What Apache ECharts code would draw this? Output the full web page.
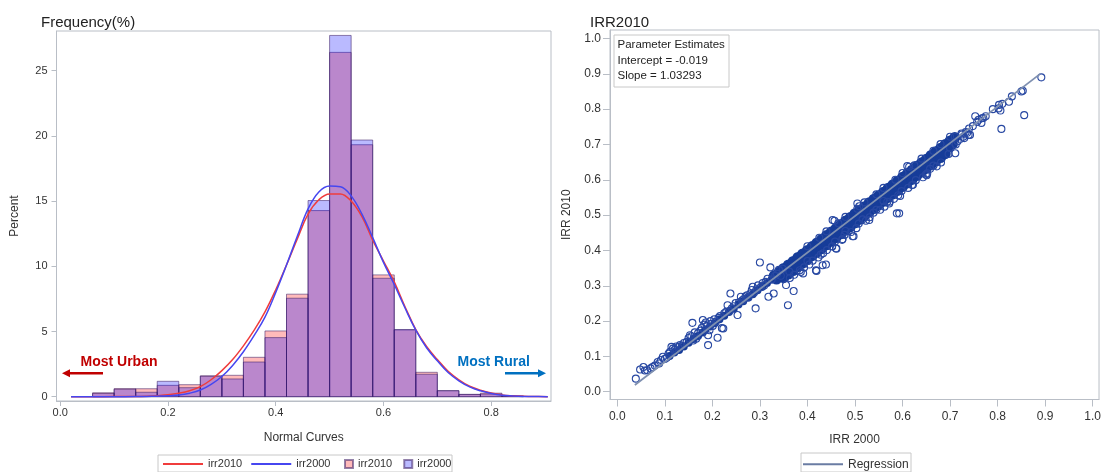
<!DOCTYPE html>
<html>
<head>
<meta charset="utf-8">
<script src="https://cdn.jsdelivr.net/npm/echarts@6/dist/echarts.min.js"></script>
<style>
html,body{margin:0;padding:0;background:#fff;}
#chart{width:1104px;height:472px;}
</style>
</head>
<body>
<div id="chart"></div>
<script>
// ---------- Histogram (left) ----------
const histBinWidth = 0.04;
const histBinStart = [0.06,0.10,0.14,0.18,0.22,0.26,0.30,0.34,0.38,0.42,0.46,0.50,0.54,0.58,0.62,0.66,0.70,0.74,0.78,0.82];
const histIrr2010 = [0.30,0.62,0.61,0.87,0.92,1.60,1.64,3.02,5.04,7.86,14.27,26.4,19.32,9.34,5.12,1.87,0.46,0.18,0.27,0.05];
const histIrr2000 = [0.25,0.57,0.34,1.18,0.69,1.57,1.36,2.66,4.53,7.55,15.04,27.7,19.68,9.08,5.15,1.72,0.46,0.17,0.20,0.05];

const curveX = [0.02,0.06,0.10,0.14,0.16,0.18,0.20,0.22,0.24,0.26,0.28,0.30,0.32,0.34,0.36,0.38,0.40,0.42,0.44,0.46,0.48,0.50,0.52,0.54,0.56,0.58,0.60,0.62,0.64,0.66,0.68,0.70,0.72,0.74,0.76,0.78,0.80,0.82,0.84,0.86,0.88,0.905];
const curveIrr2010 = [0,0,0.01,0.02,0.04,0.08,0.14,0.26,0.45,0.77,1.3,2.0,2.85,3.9,5.1,6.5,8.2,10.1,12.1,14.0,15.1,15.55,15.55,15.0,13.8,12.0,10.4,8.8,6.9,5.15,3.85,2.85,1.95,1.3,0.8,0.5,0.28,0.14,0.07,0.03,0.01,0];
const curveIrr2000 = [0,0,0,0.01,0.02,0.04,0.07,0.13,0.27,0.51,0.95,1.55,2.4,3.45,4.7,6.1,8.0,10.1,12.3,14.4,15.7,16.15,16.1,15.4,14.0,12.2,10.3,8.6,6.8,5.1,3.75,2.75,1.85,1.22,0.75,0.45,0.25,0.12,0.06,0.02,0.01,0];

const histXTicks = [0,0.2,0.4,0.6,0.8];
const histYTicks = [0,5,10,15,20,25];

// ---------- Scatter (right) ----------
// dense core of the cloud (so many overlapping circles that it reads as solid)
const scatterCore = [
[0.33,0.328],[0.34,0.338],[0.35,0.349],[0.36,0.359],[0.37,0.369],[0.38,0.380],[0.39,0.390],[0.40,0.400],
[0.41,0.411],[0.42,0.421],[0.43,0.431],[0.44,0.442],[0.45,0.452],[0.46,0.462],[0.47,0.473],[0.48,0.483],
[0.49,0.493],[0.50,0.504],[0.51,0.514],[0.52,0.524],[0.53,0.535],[0.54,0.545],[0.55,0.555],[0.56,0.565],
[0.57,0.576],[0.58,0.586],[0.59,0.596],[0.60,0.607],[0.61,0.617],[0.62,0.627],[0.63,0.638],[0.64,0.648],
[0.65,0.658],[0.66,0.669],[0.67,0.679],[0.68,0.689],[0.69,0.700],[0.70,0.710],[0.71,0.720],
[0.335,0.319],[0.345,0.329],[0.355,0.340],[0.365,0.350],[0.375,0.360],[0.385,0.371],[0.395,0.381],[0.405,0.391],
[0.415,0.402],[0.425,0.412],[0.435,0.422],[0.445,0.433],[0.455,0.443],[0.465,0.453],[0.475,0.464],[0.485,0.474],
[0.495,0.484],[0.505,0.495],[0.515,0.505],[0.525,0.515],[0.535,0.526],[0.545,0.536],[0.555,0.546],[0.565,0.557],
[0.575,0.567],[0.585,0.577],[0.595,0.588],[0.605,0.598],[0.615,0.608],[0.625,0.619],[0.635,0.629],[0.645,0.639],
[0.655,0.650],[0.665,0.660],[0.675,0.670],[0.685,0.681],[0.695,0.691],[0.705,0.701],
[0.35,0.323],[0.36,0.333],[0.37,0.343],[0.38,0.354],[0.39,0.364],[0.40,0.374],[0.41,0.385],[0.42,0.395],
[0.43,0.405],[0.44,0.416],[0.45,0.426],[0.46,0.436],[0.47,0.447],[0.48,0.457],[0.49,0.467],[0.50,0.478],
[0.51,0.488],[0.52,0.498],[0.53,0.509],[0.54,0.519],[0.55,0.529],[0.56,0.539],[0.57,0.550],[0.58,0.560],
[0.59,0.570],[0.60,0.581],[0.61,0.591],[0.62,0.601],[0.63,0.612],[0.64,0.622],[0.65,0.632],[0.66,0.643],
[0.67,0.653],[0.68,0.663],[0.69,0.674]
];
// thinner dense stretch at the low end
const scatterLowCore = [
[0.185,0.175],[0.195,0.185],[0.205,0.194],[0.215,0.205],[0.225,0.215],[0.235,0.226],[0.245,0.235],[0.255,0.247],
[0.265,0.256],[0.275,0.267],[0.285,0.276],[0.295,0.287],[0.305,0.297],[0.315,0.308],[0.325,0.318],
[0.11,0.101],[0.12,0.111],[0.13,0.118],[0.14,0.128],[0.15,0.139],[0.16,0.149],[0.17,0.158],[0.18,0.168]
];
// individual open circles
const scatterPoints = [
[0.039,0.037],[0.048,0.063],[0.055,0.070],[0.058,0.060],[0.063,0.061],[0.070,0.066],[0.074,0.070],[0.079,0.074],
[0.085,0.084],[0.088,0.080],[0.092,0.090],[0.096,0.099],[0.100,0.093],[0.104,0.096],[0.108,0.108],[0.111,0.113],
[0.114,0.127],[0.117,0.122],[0.120,0.118],[0.124,0.128],[0.128,0.126],[0.132,0.132],[0.136,0.130],[0.140,0.138],
[0.146,0.141],[0.150,0.152],[0.153,0.160],[0.156,0.157],[0.158,0.195],[0.160,0.145],[0.163,0.168],[0.166,0.150],
[0.170,0.166],[0.175,0.173],[0.178,0.181],[0.180,0.203],[0.183,0.190],[0.186,0.196],[0.188,0.185],[0.191,0.132],
[0.191,0.160],[0.194,0.174],[0.196,0.200],[0.198,0.192],[0.201,0.186],[0.204,0.205],[0.207,0.198],[0.211,0.153],
[0.213,0.209],[0.216,0.214],[0.220,0.180],[0.223,0.179],[0.225,0.222],[0.229,0.226],[0.232,0.245],[0.236,0.229],
[0.238,0.278],[0.241,0.236],[0.245,0.242],[0.249,0.251],[0.253,0.217],[0.256,0.253],[0.260,0.269],[0.263,0.259],
[0.266,0.262],[0.270,0.270],[0.273,0.273],[0.276,0.267],[0.280,0.278],[0.283,0.288],[0.285,0.297],[0.288,0.281],
[0.291,0.236],[0.293,0.290],[0.296,0.301],[0.300,0.366],[0.302,0.296],[0.306,0.308],[0.309,0.301],[0.312,0.311],
[0.316,0.320],[0.318,0.269],[0.322,0.352],[0.325,0.318],[0.329,0.278],[0.332,0.328],[0.336,0.334],[0.340,0.345],
[0.344,0.328],[0.348,0.348],[0.355,0.302],[0.359,0.245],[0.362,0.340],[0.371,0.285],[0.384,0.344],[0.391,0.335],
[0.400,0.370],[0.419,0.342],[0.439,0.360],[0.428,0.388],[0.432,0.358],[0.418,0.344],[0.452,0.412],[0.461,0.405],
[0.460,0.406],[0.473,0.430],[0.497,0.440],[0.495,0.440],[0.480,0.455],[0.457,0.484],[0.453,0.486],[0.505,0.533],
[0.509,0.525],[0.516,0.488],[0.530,0.486],[0.545,0.515],[0.572,0.533],[0.573,0.538],[0.595,0.554],[0.588,0.505],
[0.593,0.505],[0.560,0.540],[0.610,0.639],[0.614,0.637],[0.620,0.585],[0.649,0.615],[0.651,0.613],[0.665,0.640],
[0.697,0.673],[0.711,0.675],[0.700,0.690],[0.710,0.722],[0.712,0.700],[0.724,0.731],[0.730,0.718],[0.739,0.727],
[0.742,0.727],[0.753,0.780],[0.760,0.770],[0.766,0.761],[0.767,0.774],[0.802,0.802],[0.803,0.812],[0.806,0.796],
[0.808,0.744],[0.824,0.821],[0.853,0.852],[0.856,0.783],[0.892,0.890],
[0.725,0.728],[0.733,0.735],[0.740,0.745],[0.748,0.752],[0.757,0.764],[0.770,0.775],[0.775,0.780],[0.790,0.800],
[0.810,0.815],[0.830,0.836],[0.850,0.850],[0.716,0.709],[0.722,0.716],[0.728,0.722],[0.736,0.733],
[0.363,0.322],[0.372,0.331],[0.386,0.339],[0.393,0.352],[0.404,0.360],[0.411,0.371],[0.423,0.380],[0.433,0.392],
[0.441,0.401],[0.452,0.411],[0.458,0.425],[0.474,0.432],[0.478,0.444],[0.492,0.452],[0.503,0.463],[0.508,0.476],
[0.523,0.484],[0.531,0.494],[0.539,0.507],[0.553,0.515],[0.562,0.524],[0.568,0.538],[0.582,0.546],[0.591,0.556],
[0.598,0.568],[0.612,0.577],[0.622,0.586],[0.628,0.599],[0.643,0.607],[0.652,0.618],[0.658,0.631],[0.672,0.638],[0.681,0.649],
[0.40,0.412],[0.425,0.436],[0.44,0.454],[0.465,0.477],[0.48,0.495],[0.505,0.518],[0.52,0.536],[0.545,0.559],
[0.56,0.577],[0.585,0.600],[0.60,0.619],[0.625,0.641],[0.64,0.660],[0.665,0.682],[0.68,0.701],[0.70,0.722]
];
const regressionLine = [[0.037,0.019],[0.889,0.899]];
const scatterTicks = [0,0.1,0.2,0.3,0.4,0.5,0.6,0.7,0.8,0.9,1.0];

// ---------- chart ----------
const FONT = '"Liberation Sans", Arial, Helvetica, sans-serif';
const AXIS_GREY = '#b9bec6';
const TXT = '#333333';
const RED_FILL = 'rgba(255,0,0,0.27)';
const BLUE_FILL = 'rgba(0,0,255,0.27)';
const BAR_EDGE = 'rgba(60,30,100,0.55)';
const DOT = '#163c99';

function histData(vals){ return histBinStart.map((s,i)=>[s, s+histBinWidth, vals[i]]); }
function barRender(fill){
  return function(params, api){
    const p0 = api.coord([api.value(0), api.value(2)]);
    const p1 = api.coord([api.value(1), 0]);
    return {type:'rect', shape:{x:p0[0], y:p0[1], width:p1[0]-p0[0], height:p1[1]-p0[1]},
            style:{fill:fill, stroke:BAR_EDGE, lineWidth:1}};
  };
}
function axisCommon(ticks, fmt, fs, tickLen, margin){
  return {
    axisLine:{show:true, onZero:false, lineStyle:{color:AXIS_GREY}},
    axisTick:{show:true, inside:false, length:tickLen, customValues:ticks, lineStyle:{color:AXIS_GREY}},
    axisLabel:{customValues:ticks, formatter:fmt, color:TXT, fontSize:fs, fontFamily:FONT, margin:margin, showMinLabel:true, showMaxLabel:true},
    splitLine:{show:false},
    nameTextStyle:{color:TXT, fontSize:12, fontFamily:FONT}
  };
}

const chart = echarts.init(document.getElementById('chart'), null, {renderer:'canvas'});
const option = {
  animation:false,
  backgroundColor:'#ffffff',
  textStyle:{fontFamily:FONT},
  title:[
    {text:'Frequency(%)', left:36, top:10, textStyle:{fontSize:15, fontWeight:'normal', color:'#222', fontFamily:FONT}},
    {text:'IRR2010', left:585, top:10, textStyle:{fontSize:15, fontWeight:'normal', color:'#222', fontFamily:FONT}}
  ],
  grid:[
    {left:56.5, top:31, width:494.5, height:370, show:true, borderColor:AXIS_GREY, borderWidth:1, containLabel:false},
    {left:610, top:30, width:490.5, height:369.5, show:true, borderColor:AXIS_GREY, borderWidth:1, containLabel:false}
  ],
  xAxis:[
    Object.assign(axisCommon(histXTicks, v=>v.toFixed(1), 11, 5, 6), {type:'value', gridIndex:0, min:-0.007, max:0.911,
      name:'Normal Curves', nameLocation:'middle', nameGap:31}),
    Object.assign(axisCommon(scatterTicks, v=>v.toFixed(1), 12, 7, 11), {type:'value', gridIndex:1, min:-0.0153, max:1.0134,
      name:'IRR 2000', nameLocation:'middle', nameGap:34})
  ],
  yAxis:[
    Object.assign(axisCommon(histYTicks, v=>String(v), 11, 5, 9), {type:'value', gridIndex:0, min:-0.33, max:28.04,
      name:'Percent', nameLocation:'middle', nameGap:36}),
    Object.assign(axisCommon(scatterTicks, v=>v.toFixed(1), 12, 7, 9), {type:'value', gridIndex:1, min:-0.022, max:1.024,
      name:'IRR 2010', nameLocation:'middle', nameGap:37})
  ],
  legend:[
    {data:[{name:'irr2010', icon:'rect'},{name:'irr2000', icon:'rect'}], left:163, top:458.6, padding:0, itemWidth:40, itemHeight:2, itemGap:9,
     textStyle:{fontSize:11, color:TXT, fontFamily:FONT}, selectedMode:false},
    {data:[{name:'irr2010 ', icon:'rect'},{name:'irr2000 ', icon:'rect'}], formatter:n=>n.trim(),
     left:344, top:458.6, padding:0, itemWidth:8, itemHeight:8, itemGap:11,
     textStyle:{fontSize:11, color:TXT, fontFamily:FONT}, selectedMode:false},
    {data:[{name:'Regression', icon:'rect'}], left:803, top:458.2, padding:0, itemWidth:40, itemHeight:2,
     textStyle:{fontSize:12, color:TXT, fontFamily:FONT}, selectedMode:false}
  ],
  series:[
    {name:'irr2010 ', type:'custom', xAxisIndex:0, yAxisIndex:0, z:2, renderItem:barRender(RED_FILL),
     itemStyle:{color:RED_FILL, borderColor:BAR_EDGE, borderWidth:1}, encode:{x:[0,1], y:2}, data:histData(histIrr2010)},
    {name:'irr2000 ', type:'custom', xAxisIndex:0, yAxisIndex:0, z:2, renderItem:barRender(BLUE_FILL),
     itemStyle:{color:BLUE_FILL, borderColor:BAR_EDGE, borderWidth:1}, encode:{x:[0,1], y:2}, data:histData(histIrr2000)},
    {name:'irr2010', type:'line', xAxisIndex:0, yAxisIndex:0, z:4, smooth:0.4, symbol:'none',
     lineStyle:{color:'#f03c3c', width:1.5}, itemStyle:{color:'#f03c3c'},
     data:curveX.map((x,i)=>[x, curveIrr2010[i]])},
    {name:'irr2000', type:'line', xAxisIndex:0, yAxisIndex:0, z:4, smooth:0.4, symbol:'none',
     lineStyle:{color:'#4646f0', width:1.5}, itemStyle:{color:'#4646f0'},
     data:curveX.map((x,i)=>[x, curveIrr2000[i]])},
    {name:'core', type:'scatter', xAxisIndex:1, yAxisIndex:1, z:3, symbol:'circle', symbolSize:11,
     itemStyle:{color:DOT, opacity:1}, data:scatterCore},
    {name:'lowcore', type:'scatter', xAxisIndex:1, yAxisIndex:1, z:3, symbol:'circle', symbolSize:8,
     itemStyle:{color:DOT, opacity:1}, data:scatterLowCore},
    {name:'points', type:'scatter', xAxisIndex:1, yAxisIndex:1, z:3, symbol:'circle', symbolSize:7,
     itemStyle:{color:'rgba(0,0,0,0)', borderColor:'#2848a2', borderWidth:1.1, opacity:1}, data:scatterPoints},
    {name:'Regression', type:'line', xAxisIndex:1, yAxisIndex:1, z:5, symbol:'none',
     lineStyle:{color:'#7f90b0', width:1.8}, itemStyle:{color:'#6a7ca3'}, data:regressionLine}
  ],
  graphic:[
    {type:'rect', shape:{x:158, y:455, width:294, height:17}, style:{fill:'none', stroke:'#c8c8c8', lineWidth:1}, silent:true},
    {type:'rect', shape:{x:801, y:453, width:110, height:19}, style:{fill:'none', stroke:'#c8c8c8', lineWidth:1}, silent:true},
    {type:'rect', shape:{x:614, y:35, width:115, height:52}, style:{fill:'#fff', stroke:'#c8c8c8', lineWidth:1}, z:10, silent:true},
    {type:'text', x:617.5, y:44.5, z:11, style:{text:'Parameter Estimates', fill:'#222', font:'11.5px '+FONT, verticalAlign:'middle'}},
    {type:'text', x:617.5, y:60.5, z:11, style:{text:'Intercept = -0.019', fill:'#222', font:'11.5px '+FONT, verticalAlign:'middle'}},
    {type:'text', x:617.5, y:76.3, z:11, style:{text:'Slope = 1.03293', fill:'#222', font:'11.5px '+FONT, verticalAlign:'middle'}},
    {type:'text', x:80.5, y:361.7, z:11, style:{text:'Most Urban', fill:'#c00000', font:'bold 14px '+FONT, verticalAlign:'middle'}},
    {type:'line', z:11, shape:{x1:103, y1:373.3, x2:69, y2:373.3}, style:{stroke:'#c00000', lineWidth:2.5}},
    {type:'polygon', z:11, shape:{points:[[62,373.3],[70,369.3],[70,377.3]]}, style:{fill:'#c00000'}},
    {type:'text', x:457.5, y:361.7, z:11, style:{text:'Most Rural', fill:'#0070c0', font:'bold 14px '+FONT, verticalAlign:'middle'}},
    {type:'line', z:11, shape:{x1:505, y1:373.3, x2:539, y2:373.3}, style:{stroke:'#0070c0', lineWidth:2.5}},
    {type:'polygon', z:11, shape:{points:[[546,373.3],[538,369.3],[538,377.3]]}, style:{fill:'#0070c0'}}
  ]
};
chart.setOption(option);
</script>
</body>
</html>
